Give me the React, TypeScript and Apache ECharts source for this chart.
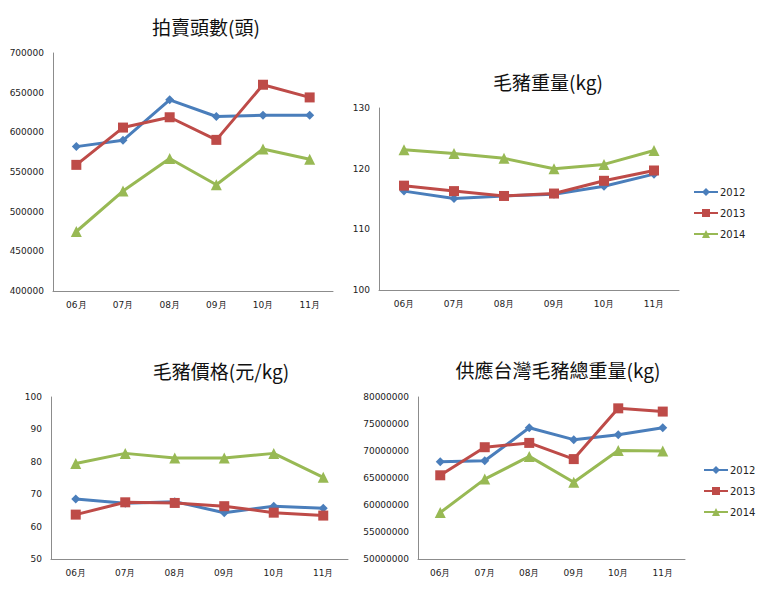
import React, { useEffect, useRef } from "react";
import * as echarts from "echarts";

const months = ["06月", "07月", "08月", "09月", "10月", "11月"];
const years = ["2012", "2013", "2014"];

const headCount2012 = [582000, 590000, 641000, 620000, 621500, 621500];
const headCount2013 = [559000, 606000, 619000, 590500, 660000, 644000];
const headCount2014 = [475000, 526000, 567000, 534000, 579000, 566000];

const weight2012 = [116.3, 115.1, 115.5, 115.8, 117.1, 119.1];
const weight2013 = [117.2, 116.3, 115.5, 115.9, 118.0, 119.7];
const weight2014 = [123.1, 122.5, 121.7, 120.0, 120.7, 123.0];

const price2012 = [68.5, 67.2, 67.7, 64.3, 66.3, 65.7];
const price2013 = [63.7, 67.5, 67.3, 66.3, 64.3, 63.4];
const price2014 = [79.5, 82.6, 81.2, 81.2, 82.6, 75.2];

const total2012 = [68000000, 68200000, 74300000, 72100000, 73000000, 74300000];
const total2013 = [65500000, 70700000, 71500000, 68500000, 77900000, 77300000];
const total2014 = [58600000, 64800000, 69000000, 64200000, 70100000, 70000000];

const titles = ["拍賣頭數(頭)", "毛豬重量(kg)", "毛豬價格(元/kg)", "供應台灣毛豬總重量(kg)"];

const colors = ["#4A7EBB", "#BE4B48", "#98B954"];
const symbols = ["diamond", "rect", "triangle"];
const symbolSizes = [9, 10, 11];

export default function App() {
  const ref = useRef<HTMLDivElement>(null);
  useEffect(() => {
    document.body.style.margin = "0";
    const chart = echarts.init(ref.current!, null, { renderer: "svg" });
    const grids = [
      { left: 53, top: 53, width: 280, height: 238 },
      { left: 379, top: 108, width: 300, height: 182 },
      { left: 51, top: 397, width: 297, height: 162 },
      { left: 418, top: 397, width: 267, height: 162 },
    ];
    const ranges = [
      [400000, 700000, 50000],
      [100, 130, 10],
      [50, 100, 10],
      [50000000, 80000000, 5000000],
    ];
    const data = [
      [headCount2012, headCount2013, headCount2014],
      [weight2012, weight2013, weight2014],
      [price2012, price2013, price2014],
      [total2012, total2013, total2014],
    ];
    const titlePos = [
      [206, 26],
      [548, 81],
      [221, 370],
      [558, 369],
    ];
    const labelFont = { fontFamily: "DejaVu Sans", fontSize: 9, color: "#222" };
    const axisLine = { show: true, lineStyle: { color: "#8c8c8c", width: 1 } };
    const series: any[] = [];
    data.forEach((group, gi) => {
      group.forEach((vals, si) => {
        series.push({
          type: "line",
          name: years[si],
          xAxisIndex: gi,
          yAxisIndex: gi,
          data: vals,
          symbol: symbols[si],
          symbolSize: symbolSizes[si],
          lineStyle: { width: 3, color: colors[si] },
          itemStyle: { color: colors[si] },
          z: 3 + si,
        });
      });
    });
    const legendCommon = {
      orient: "vertical",
      itemWidth: 24,
      itemHeight: 10,
      itemGap: 11,
      data: years,
      textStyle: { fontFamily: "DejaVu Sans", fontSize: 10, color: "#222", padding: [0, 0, 0, -3] },
      selectedMode: false,
    };
    chart.setOption({
      animation: false,
      backgroundColor: "#fff",
      grid: grids.map((g) => ({ ...g, containLabel: false })),
      xAxis: grids.map((_, i) => ({
        type: "category",
        gridIndex: i,
        data: months,
        boundaryGap: true,
        axisLine,
        axisTick: { show: false },
        axisLabel: { ...labelFont, margin: 9 },
        splitLine: { show: false },
      })),
      yAxis: grids.map((_, i) => ({
        type: "value",
        gridIndex: i,
        min: ranges[i][0],
        max: ranges[i][1],
        interval: ranges[i][2],
        axisLine,
        axisTick: { show: false },
        axisLabel: { ...labelFont, margin: 9, formatter: (v: number) => String(v) },
        splitLine: { show: false },
      })),
      legend: [
        { ...legendCommon, left: 688, top: 182 },
        { ...legendCommon, left: 698, top: 460 },
      ],
      graphic: titles.map((t, i) => ({
        type: "text",
        x: titlePos[i][0],
        y: titlePos[i][1],
        style: {
          text: t,
          font: '19px "Noto Sans CJK TC"',
          fill: "#111",
          textAlign: "center",
          textVerticalAlign: "middle",
        },
      })),
      series,
    });
    return () => chart.dispose();
  }, []);
  return <div ref={ref} style={{ position: "absolute", left: 0, top: 0, width: 783, height: 600 }} />;
}
